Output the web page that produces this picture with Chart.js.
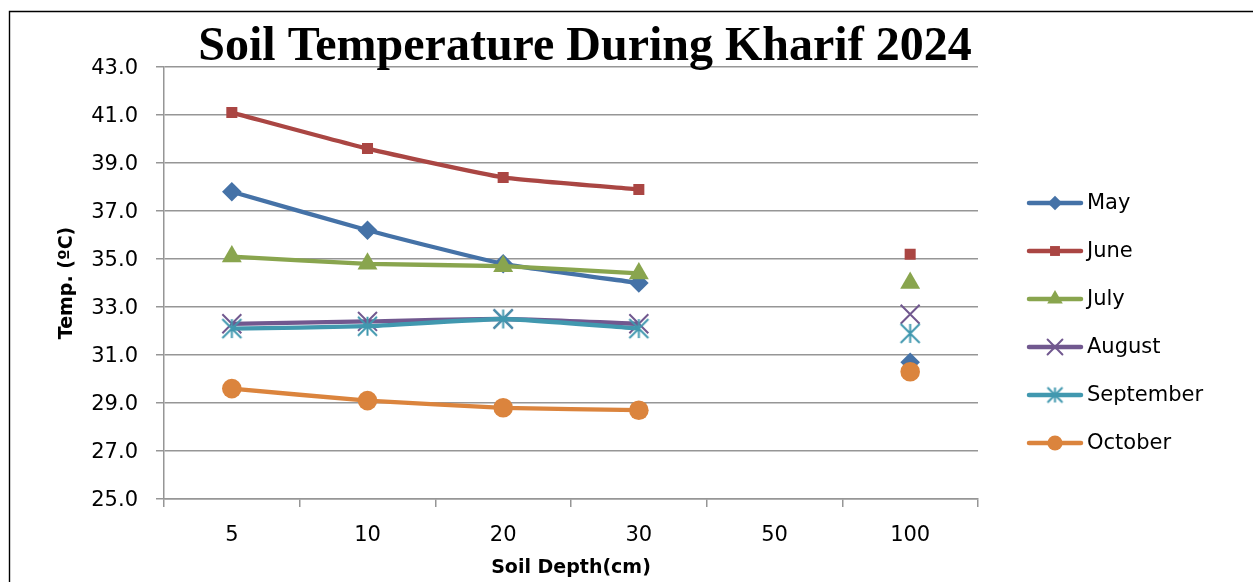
<!DOCTYPE html>
<html>
<head>
<meta charset="utf-8">
<title>Soil Temperature During Kharif 2024</title>
<script src="https://cdn.jsdelivr.net/npm/chart.js@4/dist/chart.umd.min.js"></script>
<style>
  html, body { margin: 0; padding: 0; background: #fff; }
  #wrap { position: relative; width: 1253px; height: 582px; }
</style>
</head>
<body>
<div id="wrap"><canvas id="chart"></canvas></div>
<script>
// Soil depth categories (cm) and monthly mean soil temperature (°C)
const depths = ['5', '10', '20', '30', '50', '100'];
const months = ['May', 'June', 'July', 'August', 'September', 'October'];
const may       = [37.8, 36.2, 34.8, 34.0, null, 30.7];
const june      = [41.1, 39.6, 38.4, 37.9, null, 35.2];
const july      = [35.1, 34.8, 34.7, 34.4, null, 34.0];
const august    = [32.3, 32.4, 32.5, 32.3, null, 32.7];
const september = [32.1, 32.2, 32.5, 32.1, null, 31.9];
const october   = [29.6, 29.1, 28.8, 28.7, null, 30.3];
const yTicks = { min: 25, max: 43, step: 2 };

const colors = ['#4572A7', '#AA4643', '#89A54E', '#71588F', '#4198AF', '#DB843D'];

// six-armed asterisk marker (X with a vertical bar)
function asterisk(color, size, lw) {
  const c = document.createElement('canvas');
  const s = Math.ceil(size + lw * 2);
  c.width = s; c.height = s;
  const g = c.getContext('2d');
  const m = s / 2, h = size / 2;
  g.strokeStyle = color; g.lineWidth = lw; g.lineCap = 'butt';
  g.beginPath();
  g.moveTo(m, m - h); g.lineTo(m, m + h);
  g.moveTo(m - h, m - h); g.lineTo(m + h, m + h);
  g.moveTo(m + h, m - h); g.lineTo(m - h, m + h);
  g.stroke();
  return c;
}
const starBig = asterisk(colors[4], 19, 2);
const starSmall = asterisk(colors[4], 15, 2);

const seriesValues = [may, june, july, august, september, october];
const markerStyles = ['rectRot', 'rect', 'triangle', 'crossRot', starBig, 'circle'];
const markerRadii  = [9.8, 7.8, 11.5, 13.4, 10, 9.8];
const legendStyles = ['rectRot', 'rect', 'triangle', 'crossRot', starSmall, 'circle'];
const legendRadii  = [7.3, 7, 9, 10.5, 8, 7.6];

const datasets = months.map((m, i) => ({
  label: m,
  data: seriesValues[i],
  borderColor: colors[i],
  backgroundColor: colors[i],
  borderWidth: 4.3,
  pointStyle: markerStyles[i],
  pointRadius: markerRadii[i],
  pointHoverRadius: markerRadii[i],
  pointBorderWidth: (i === 3) ? 2 : 0,
  pointBorderColor: colors[i],
  pointBackgroundColor: colors[i],
  tension: 0.15,
  spanGaps: false,
  order: months.length - i
}));

function drawLegendMarker(ctx, style, x, y, r, color) {
  ctx.save();
  ctx.fillStyle = color; ctx.strokeStyle = color;
  if (style instanceof HTMLCanvasElement) {
    ctx.drawImage(style, x - style.width / 2, y - style.height / 2);
    ctx.restore(); return;
  }
  ctx.beginPath();
  if (style === 'rectRot') {
    ctx.moveTo(x - r, y); ctx.lineTo(x, y - r); ctx.lineTo(x + r, y); ctx.lineTo(x, y + r); ctx.closePath(); ctx.fill();
  } else if (style === 'rect') {
    const h = r * Math.SQRT1_2; ctx.rect(x - h, y - h, 2 * h, 2 * h); ctx.fill();
  } else if (style === 'triangle') {
    const dx = Math.sin(Math.PI / 3) * r;
    ctx.moveTo(x, y - r); ctx.lineTo(x + dx, y + r / 2); ctx.lineTo(x - dx, y + r / 2); ctx.closePath(); ctx.fill();
  } else if (style === 'crossRot') {
    const h = r * Math.SQRT1_2; ctx.lineWidth = 2;
    ctx.moveTo(x - h, y - h); ctx.lineTo(x + h, y + h); ctx.moveTo(x + h, y - h); ctx.lineTo(x - h, y + h); ctx.stroke();
  } else {
    ctx.arc(x, y, r, 0, Math.PI * 2); ctx.fill();
  }
  ctx.restore();
}

const decorations = {
  id: 'decorations',
  beforeDraw(chart) {
    const ctx = chart.ctx;
    ctx.save();
    ctx.fillStyle = '#fff';
    ctx.fillRect(0, 0, chart.width, chart.height);
    // outer frame (left and top edges)
    ctx.strokeStyle = '#000'; ctx.lineWidth = 1.4;
    ctx.beginPath();
    ctx.moveTo(9.5, chart.height + 5); ctx.lineTo(9.5, 11.5); ctx.lineTo(chart.width + 5, 11.5);
    ctx.stroke();
    ctx.restore();
  },
  afterDraw(chart) {
    const ctx = chart.ctx;
    ctx.save();
    // chart title
    ctx.fillStyle = '#000';
    ctx.font = 'bold 48px "Liberation Serif", "Times New Roman", serif';
    ctx.textAlign = 'center'; ctx.textBaseline = 'alphabetic';
    ctx.fillText('Soil Temperature During Kharif 2024', 585, 60);
    // legend
    ctx.font = '21px "DejaVu Sans", sans-serif';
    ctx.textAlign = 'left'; ctx.textBaseline = 'middle';
    chart.data.datasets.forEach((ds, i) => {
      const y = 203 + i * 48;
      ctx.strokeStyle = ds.borderColor; ctx.lineWidth = 4.5; ctx.lineCap = 'round';
      ctx.beginPath(); ctx.moveTo(1029, y); ctx.lineTo(1081, y); ctx.stroke();
      drawLegendMarker(ctx, legendStyles[i], 1055, y, legendRadii[i], ds.borderColor);
      ctx.fillStyle = '#000';
      ctx.fillText(ds.label, 1087, y + 1);
    });
    ctx.restore();
  }
};

const gridColor = '#969696';

new Chart(document.getElementById('chart'), {
  type: 'line',
  data: { labels: depths, datasets },
  plugins: [decorations],
  options: {
    responsive: true,
    maintainAspectRatio: false,
    devicePixelRatio: 1,
    animation: false,
    events: [],
    layout: { padding: { left: 52, right: 275, top: 67, bottom: 0 } },
    plugins: {
      legend: { display: false },
      title: { display: false },
      tooltip: { enabled: false }
    },
    scales: {
      x: {
        type: 'category',
        offset: true,
        afterFit(scale) { scale.height = 83; },
        grid: {
          display: true,
          offset: true,
          drawOnChartArea: false,
          drawTicks: true,
          tickLength: 8,
          color: gridColor,
          lineWidth: 1.5
        },
        border: { display: true, color: gridColor, width: 1.5 },
        ticks: {
          color: '#000',
          padding: 16,
          maxRotation: 0,
          font: { family: '"DejaVu Sans", sans-serif', size: 21 }
        },
        title: {
          display: true,
          text: 'Soil Depth(cm)',
          color: '#000',
          padding: { top: 0, bottom: 3 },
          font: { family: '"DejaVu Sans", sans-serif', size: 19, weight: 'bold' }
        }
      },
      y: {
        min: yTicks.min,
        max: yTicks.max,
        afterFit(scale) { scale.width = 112; },
        grid: {
          color: gridColor,
          lineWidth: 1.5,
          drawTicks: true,
          tickLength: 8
        },
        border: { display: true, color: gridColor, width: 1.5 },
        ticks: {
          stepSize: yTicks.step,
          color: '#000',
          padding: 18,
          labelOffset: 2,
          font: { family: '"DejaVu Sans", sans-serif', size: 21 },
          callback: v => Number(v).toFixed(1)
        },
        title: {
          display: true,
          text: 'Temp. (ºC)',
          color: '#000',
          padding: { top: 4, bottom: 0 },
          font: { family: '"DejaVu Sans", sans-serif', size: 19, weight: 'bold' }
        }
      }
    }
  }
});
</script>
</body>
</html>
